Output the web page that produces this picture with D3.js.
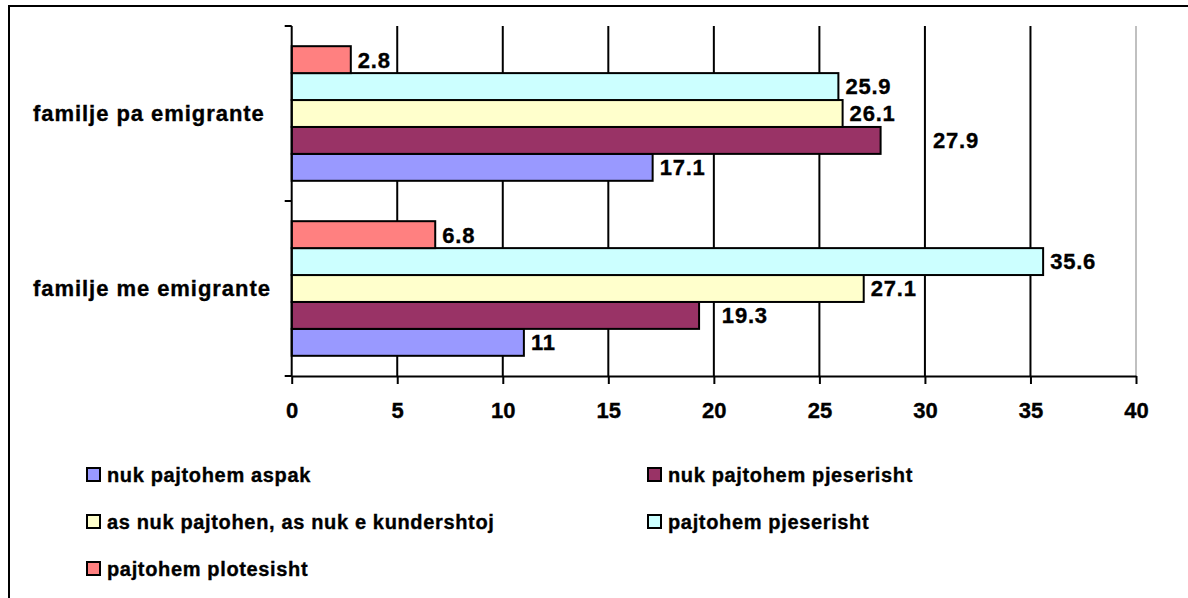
<!DOCTYPE html>
<html>
<head>
<meta charset="utf-8">
<script src="https://cdn.jsdelivr.net/npm/d3@7"></script>
<style>
  body { margin: 0; background: #fff; }
  svg { display: block; }
  text { font-family: "Liberation Sans", Arial, sans-serif; font-weight: bold; fill: #000; stroke: #000; stroke-width: 0.35px; }
</style>
</head>
<body>
<svg id="chart" width="1188" height="598"></svg>
<script>
// categories, top to bottom as drawn
const categories = ['familje pa emigrante', 'familje me emigrante'];

// series names (legend order) and values per category [pa, me]
const seriesNames = [
  'nuk pajtohem aspak',
  'nuk pajtohem pjeserisht',
  'as nuk pajtohen, as nuk e kundershtoj',
  'pajtohem pjeserisht',
  'pajtohem plotesisht'
];
const nukAspak = [17.1, 11];
const nukPjeserisht = [27.9, 19.3];
const asNuk = [26.1, 27.1];
const pajtohemPjeserisht = [25.9, 35.6];
const pajtohemPlotesisht = [2.8, 6.8];
const seriesValues = [nukAspak, nukPjeserisht, asNuk, pajtohemPjeserisht, pajtohemPlotesisht];
const seriesColors = ['#9999FF', '#993366', '#FFFFCC', '#CCFFFF', '#FF8080'];
const xTicks = [0, 5, 10, 15, 20, 25, 30, 35, 40];

const svg = d3.select('#chart');

// outer chart frame (runs off the right and bottom edge)
svg.append('rect')
  .attr('x', 9).attr('y', 6)
  .attr('width', 1300).attr('height', 800)
  .attr('fill', 'none').attr('stroke', '#000').attr('stroke-width', 2);

const plot = { left: 291.7, right: 1136, top: 26, bottom: 376 };

const x = d3.scaleLinear().domain([0, 40]).range([plot.left, plot.right]);
const y0 = d3.scaleBand().domain(categories).range([plot.top, plot.bottom]);
// excel style: first series at the bottom, gap width 150%
const y1 = d3.scaleBand()
  .domain(d3.range(seriesNames.length).reverse())
  .range([0, y0.bandwidth()])
  .paddingInner(0)
  .paddingOuter(0.75);

// gridlines
svg.append('g')
  .selectAll('line')
  .data(xTicks.filter(t => t > 0))
  .enter().append('line')
  .attr('x1', d => x(d)).attr('x2', d => x(d))
  .attr('y1', plot.top).attr('y2', plot.bottom)
  .attr('stroke', d => d === 40 ? '#c0c0c0' : '#000')
  .attr('stroke-width', 2);

// bars
const rows = [];
categories.forEach((c, ci) => {
  seriesValues.forEach((vals, si) => {
    rows.push({ cat: c, s: si, v: vals[ci] });
  });
});

svg.append('g')
  .selectAll('rect')
  .data(rows)
  .enter().append('rect')
  .attr('x', x(0))
  .attr('y', d => y0(d.cat) + y1(d.s))
  .attr('width', d => x(d.v) - x(0))
  .attr('height', y1.bandwidth())
  .attr('fill', d => seriesColors[d.s])
  .attr('stroke', '#000')
  .attr('stroke-width', 2);

// value labels, nudged past a gridline if they would sit on it
const gridX = xTicks.filter(t => t > 0 && t < 40).map(t => x(t));
svg.append('g')
  .selectAll('text')
  .data(rows)
  .enter().append('text')
  .attr('font-size', 22)
  .attr('letter-spacing', 0.8)
  .attr('dy', '0.36em')
  .attr('y', d => y0(d.cat) + y1(d.s) + y1.bandwidth() / 2)
  .text(d => d.v)
  .each(function(d) {
    let px = x(d.v) + 7;
    const w = this.getComputedTextLength();
    const hit = gridX.find(g => g > px - 2 && g < px + w + 2);
    if (hit !== undefined) px = hit + 8;
    d3.select(this).attr('x', px);
  });

// vertical axis
svg.append('line')
  .attr('x1', plot.left).attr('x2', plot.left)
  .attr('y1', plot.top).attr('y2', plot.bottom)
  .attr('stroke', '#000').attr('stroke-width', 2);
svg.append('g')
  .selectAll('line')
  .data([plot.top, plot.top + y0.bandwidth(), plot.bottom])
  .enter().append('line')
  .attr('x1', plot.left - 7).attr('x2', plot.left)
  .attr('y1', d => d).attr('y2', d => d)
  .attr('stroke', '#000').attr('stroke-width', 2);

svg.append('g')
  .selectAll('text')
  .data(categories)
  .enter().append('text')
  .attr('x', 33)
  .attr('y', d => y0(d) + y0.bandwidth() / 2)
  .attr('dy', '0.36em')
  .attr('font-size', 22)
  .attr('letter-spacing', 0.95)
  .text(d => d);

// horizontal axis
const xAxis = svg.append('g')
  .attr('transform', `translate(0,${plot.bottom})`)
  .call(d3.axisBottom(x).tickValues(xTicks).tickSize(8).tickSizeOuter(0));
xAxis.select('.domain').attr('stroke', '#000').attr('stroke-width', 2);
xAxis.selectAll('.tick line').attr('stroke', '#000').attr('stroke-width', 2);
xAxis.selectAll('.tick text')
  .attr('y', 42).attr('dy', 0)
  .attr('font-size', 22)
  .attr('font-family', '"Liberation Sans", Arial, sans-serif')
  .attr('font-weight', 'bold')
  .attr('fill', '#000');

// legend
const legendCols = [87, 648];
const legendRows = [475, 522, 569];
const legend = svg.append('g')
  .selectAll('g')
  .data(seriesNames)
  .enter().append('g')
  .attr('transform', (d, i) => `translate(${legendCols[i % 2]},${legendRows[Math.floor(i / 2)]})`);
legend.append('rect')
  .attr('x', 0).attr('y', -7)
  .attr('width', 13).attr('height', 13)
  .attr('fill', (d, i) => seriesColors[i])
  .attr('stroke', '#000').attr('stroke-width', 2);
legend.append('text')
  .attr('x', 20)
  .attr('dy', '0.36em')
  .attr('font-size', 20)
  .attr('letter-spacing', 0.65)
  .text(d => d);
</script>
</body>
</html>
